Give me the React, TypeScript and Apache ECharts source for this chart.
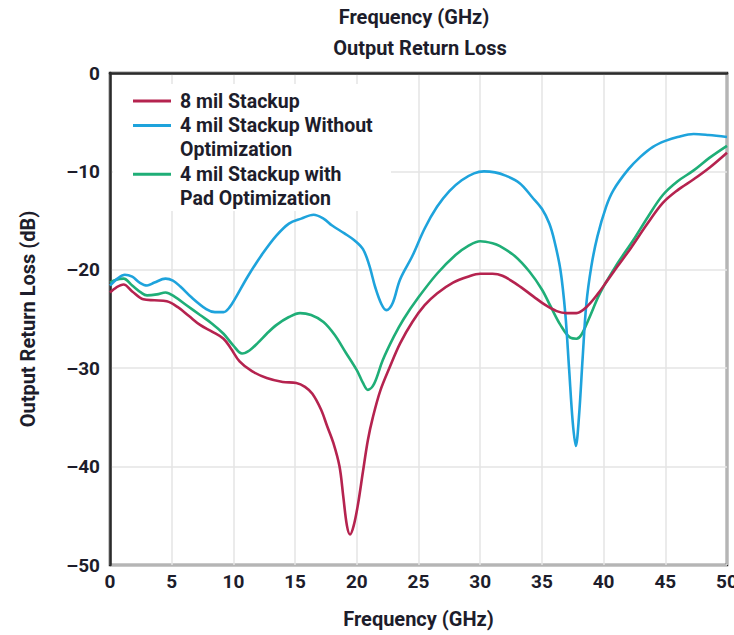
import React, { useEffect, useRef } from "react";
import * as echarts from "echarts";

const seriesNames = [
  "8 mil Stackup",
  "4 mil Stackup Without Optimization",
  "4 mil Stackup with Pad Optimization",
];
const legendLines = [
  ["8 mil Stackup"],
  ["4 mil Stackup Without", "Optimization"],
  ["4 mil Stackup with", "Pad Optimization"],
];
const colors = ["#b5234f", "#1ea3dc", "#1fae77"];

const xTicks = [0, 5, 10, 15, 20, 25, 30, 35, 40, 45, 50];
const yTicks = [0, -10, -20, -30, -40, -50];

const red8mil: [number, number][] = [
  [0, -22.3], [0.5, -21.8], [1.1, -21.5], [1.8, -22.2], [2.7, -23.0], [3.6, -23.1],
  [4.6, -23.2], [5.5, -23.8], [6.4, -24.7], [7.3, -25.6], [8.3, -26.3], [9.2, -27.0],
  [9.8, -28.0], [10.5, -29.3], [11.5, -30.3], [12.7, -31.0], [14, -31.4], [15.1, -31.5],
  [15.8, -31.9], [16.4, -32.6], [17.1, -34.2], [17.6, -35.9], [18.1, -37.6], [18.6, -40.0],
  [18.9, -43.0], [19.2, -46.0], [19.45, -46.9], [19.75, -46.0], [20.1, -43.8], [20.5, -40.5],
  [20.9, -37.3], [21.3, -35.0], [21.9, -32.3], [22.7, -29.8], [23.5, -27.5], [24.5, -25.3],
  [25.5, -23.6], [26.5, -22.4], [27.8, -21.3], [29, -20.7], [30, -20.4], [31, -20.4],
  [31.8, -20.6], [33, -21.5], [34.3, -22.7], [35.3, -23.6], [36.2, -24.2], [37, -24.4],
  [37.8, -24.4], [38.6, -23.8], [39.5, -22.5], [40.3, -21.1], [41.1, -19.7], [42.2, -17.8],
  [43.5, -15.4], [44.8, -13.2], [46, -11.9], [47.3, -10.8], [48.6, -9.6], [50, -8.1],
];

const blue4mil: [number, number][] = [
  [0, -21.6], [0.6, -20.9], [1.2, -20.5], [1.8, -20.7], [2.4, -21.3], [3.0, -21.6],
  [3.6, -21.3], [4.5, -20.9], [5.1, -21.1], [5.7, -21.7], [6.6, -22.8], [7.8, -24.0],
  [8.5, -24.3], [9.2, -24.3], [9.7, -23.8], [10.2, -22.8], [11.2, -20.6], [12.4, -18.3],
  [13.5, -16.5], [14.5, -15.3], [15.5, -14.8], [16.5, -14.4], [17.3, -14.8], [18, -15.5],
  [19, -16.3], [19.8, -17.0], [20.5, -17.9], [21.0, -19.5], [21.5, -21.8], [22.0, -23.5],
  [22.4, -24.1], [22.9, -23.4], [23.5, -21.0], [24.5, -18.6], [25.5, -15.8], [26.5, -13.6],
  [27.5, -12.0], [28.5, -10.9], [29.5, -10.2], [30.3, -10.0], [31.2, -10.1], [32, -10.4],
  [33.2, -11.2], [34.2, -12.6], [35.0, -13.8], [35.6, -15.3], [36.0, -17.0], [36.5, -20.0],
  [36.9, -24.5], [37.2, -30.0], [37.5, -35.5], [37.75, -37.9], [38.0, -35.0], [38.3, -29.0],
  [38.6, -23.5], [39.0, -19.7], [39.5, -16.6], [40.2, -13.6], [40.8, -11.9], [42, -9.8],
  [43, -8.5], [44, -7.5], [45, -6.9], [46, -6.5], [47.3, -6.2], [48.5, -6.3], [50, -6.5],
];

const greenPad: [number, number][] = [
  [0, -21.3], [0.5, -21.0], [1.1, -20.9], [1.8, -21.6], [2.5, -22.3], [3.0, -22.6],
  [3.8, -22.5], [4.5, -22.3], [5.2, -22.7], [6.2, -23.6], [7.3, -24.6], [8.3, -25.5],
  [9.2, -26.5], [10.0, -27.7], [10.7, -28.5], [11.3, -28.2], [12.0, -27.4], [12.7, -26.5],
  [13.5, -25.6], [14.5, -24.8], [15.4, -24.4], [16.3, -24.6], [17.3, -25.3], [18.2, -26.6],
  [19.1, -28.4], [20.0, -30.2], [20.5, -31.5], [20.9, -32.2], [21.4, -31.6], [22.1, -29.2],
  [23.0, -26.8], [23.8, -25.0], [25, -22.8], [26.5, -20.4], [28, -18.5], [29, -17.6],
  [30, -17.1], [31, -17.3], [31.6, -17.6], [32.8, -18.6], [34.0, -20.2], [35.0, -22.0],
  [35.7, -23.7], [36.5, -25.6], [37.3, -26.9], [37.8, -27.0], [38.2, -26.6], [38.8, -25.0],
  [39.7, -22.4], [41, -19.6], [42.4, -17.0], [43.6, -14.6], [44.8, -12.4], [46, -11.0],
  [47.3, -9.9], [48.6, -8.6], [50, -7.4],
];

const seriesData = [red8mil, blue4mil, greenPad];

const FONT = "Roboto, 'DejaVu Sans', sans-serif";
const TEXT_COLOR = "#1d1d2b";

export default function App() {
  const ref = useRef<HTMLDivElement>(null);

  useEffect(() => {
    if (!ref.current) return;
    const chart = echarts.init(ref.current, undefined, { renderer: "svg" });

    const legendX = 133;
    const legendY = 101;
    const rowH = 24.4;
    const legendGraphics: any[] = [
      {
        type: "rect",
        z: 10,
        shape: { x: 113, y: 84, width: 278, height: 127 },
        style: { fill: "#ffffff" },
      },
    ];
    let row = 0;
    legendLines.forEach((lines, i) => {
      const y = legendY + row * rowH;
      legendGraphics.push({
        type: "line",
        z: 11,
        shape: { x1: legendX, y1: y, x2: legendX + 38, y2: y },
        style: { stroke: colors[i], lineWidth: 3 },
      });
      lines.forEach((t, j) => {
        legendGraphics.push({
          type: "text",
          z: 11,
          x: 180,
          y: y + j * rowH,
          style: {
            text: t,
            fill: TEXT_COLOR,
            font: `bold 19.5px ${FONT}`,
            verticalAlign: "middle",
            align: "left",
          },
        });
      });
      row += lines.length;
    });

    const nameStyle = { fontFamily: FONT, fontWeight: "bold", fontSize: 20, color: TEXT_COLOR };

    chart.setOption({
      animation: false,
      backgroundColor: "#ffffff",
      title: [
        {
          text: "Frequency (GHz)",
          left: 414,
          top: 7,
          padding: 0,
          textAlign: "center",
          textStyle: nameStyle,
        },
        {
          text: "Output Return Loss",
          left: 420,
          top: 38,
          padding: 0,
          textAlign: "center",
          textStyle: nameStyle,
        },
      ],
      grid: {
        left: 110,
        right: 7,
        top: 73,
        bottom: 70,
        outerBoundsMode: "none",
        containLabel: false,
        show: true,
        borderColor: "#2b2b2b",
        borderWidth: 2.5,
        backgroundColor: "transparent",
      },
      xAxis: {
        type: "value",
        min: xTicks[0],
        max: xTicks[xTicks.length - 1],
        interval: 5,
        name: "Frequency (GHz)",
        nameLocation: "middle",
        nameGap: 44,
        nameTextStyle: nameStyle,
        axisLine: { show: true, lineStyle: { color: "#2b2b2b", width: 2.5 } },
        axisTick: { show: false },
        axisLabel: {
          fontFamily: FONT,
          fontWeight: "bold",
          fontSize: 19,
          color: TEXT_COLOR,
          margin: 7,
          showMaxLabel: true,
        },
        splitLine: { show: true, lineStyle: { color: "#e4e4e4", width: 1.5 } },
      },
      yAxis: {
        type: "value",
        min: yTicks[yTicks.length - 1],
        max: yTicks[0],
        interval: 10,
        name: "Output Return Loss (dB)",
        nameLocation: "middle",
        nameGap: 72,
        nameTextStyle: nameStyle,
        axisLine: { show: true, lineStyle: { color: "#2b2b2b", width: 2.5 } },
        axisTick: { show: false },
        axisLabel: {
          fontFamily: FONT,
          fontWeight: "bold",
          fontSize: 19,
          color: TEXT_COLOR,
          margin: 10,
          formatter: (v: number) => (v < 0 ? "\u2013" + Math.abs(v) : String(v)),
        },
        splitLine: { show: true, lineStyle: { color: "#e4e4e4", width: 1.5 } },
      },
      series: seriesNames.map((name, i) => ({
        name,
        type: "line",
        data: seriesData[i],
        smooth: 0.35,
        showSymbol: false,
        symbol: "none",
        lineStyle: { color: colors[i], width: 2.6 },
        itemStyle: { color: colors[i] },
        z: 3 - i,
      })),
      graphic: legendGraphics,
    });

    return () => chart.dispose();
  }, []);

  return (
    <div
      ref={ref}
      style={{ position: "fixed", left: 0, top: 0, width: 734, height: 635 }}
    />
  );
}
